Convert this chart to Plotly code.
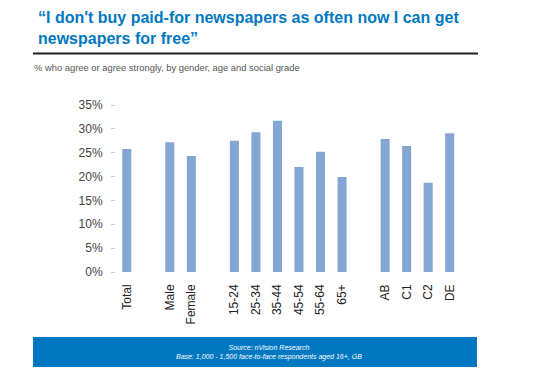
import plotly.graph_objects as go

categories = ["Total", " ", "Male", "Female", "  ", "15-24", "25-34", "35-44", "45-54",
              "55-64", "65+", "   ", "AB", "C1", "C2", "DE", "    "]
values = [25.8, None, 27.2, 24.3, None, 27.5, 29.3, 31.7, 22.0,
          25.2, 19.9, None, 27.9, 26.4, 18.7, 29.1, None]
yticks = [0, 5, 10, 15, 20, 25, 30, 35]
ytick_labels = [f"{v}%" for v in yticks]

title_text = "“I don't buy paid-for newspapers as often now I can get<br>newspapers for free”"
subtitle_text = "% who agree or agree strongly, by gender, age and social grade"
source_text = "Source: nVision Research<br>Base: 1,000 - 1,500 face-to-face respondents aged 16+, GB"

# page body has an 8px margin; work in page coordinates and offset
O = 8
W, H = 551 - 2 * O, 384 - 2 * O
L, R, T, B = 116 - O, 482 - O, 105 - O, 272 - O

def px(x):
    return (x - O - L) / (R - L)

def py(y):
    return (B - (y - O)) / (B - T)

fig = go.Figure(go.Bar(
    x=categories, y=values, marker_color="#84A6D3", marker_line_width=0,
    hoverinfo="skip"))

fig.update_layout(
    width=W, height=H,
    margin=dict(l=L, r=W - R, t=T, b=H - B),
    paper_bgcolor="white", plot_bgcolor="white",
    bargap=0.58, showlegend=False,
    font=dict(family="Liberation Sans, Arial, sans-serif"),
    xaxis=dict(type="category", tickangle=-90, showgrid=False, showline=False,
               zeroline=False, ticks="", ticklabelstandoff=9,
               tickfont=dict(size=12, color="#222222")),
    yaxis=dict(range=[0, 35], tickvals=yticks, ticktext=ytick_labels, showgrid=False,
               showline=False, zeroline=False, ticks="outside", ticklen=4,
               tickcolor="#CCCCCC", ticklabelstandoff=6,
               tickfont=dict(size=12, color="#444444")),
    shapes=[
        dict(type="line", xref="paper", yref="paper", x0=px(33), x1=px(478),
             y0=py(53.5), y1=py(53.5), line=dict(color="#231F20", width=2)),
        dict(type="rect", xref="paper", yref="paper", x0=px(33), x1=px(477),
             y0=py(337), y1=py(367), fillcolor="#0078C1", line=dict(width=0)),
    ],
    annotations=[
        dict(text="<b>" + title_text + "</b>", xref="paper", yref="paper",
             x=px(36), y=py(7), xanchor="left", yanchor="top", align="left",
             showarrow=False, font=dict(size=16, color="#0078C1")),
        dict(text=subtitle_text, xref="paper", yref="paper",
             x=px(32), y=py(60), xanchor="left", yanchor="top", align="left",
             showarrow=False, font=dict(size=9.4, color="#555555")),
        dict(text="<i>" + source_text + "</i>", xref="paper", yref="paper",
             x=px(269), y=py(352), xanchor="center", yanchor="middle", align="center",
             showarrow=False, font=dict(size=7, color="white")),
    ],
)

fig.write_html("out.html")
